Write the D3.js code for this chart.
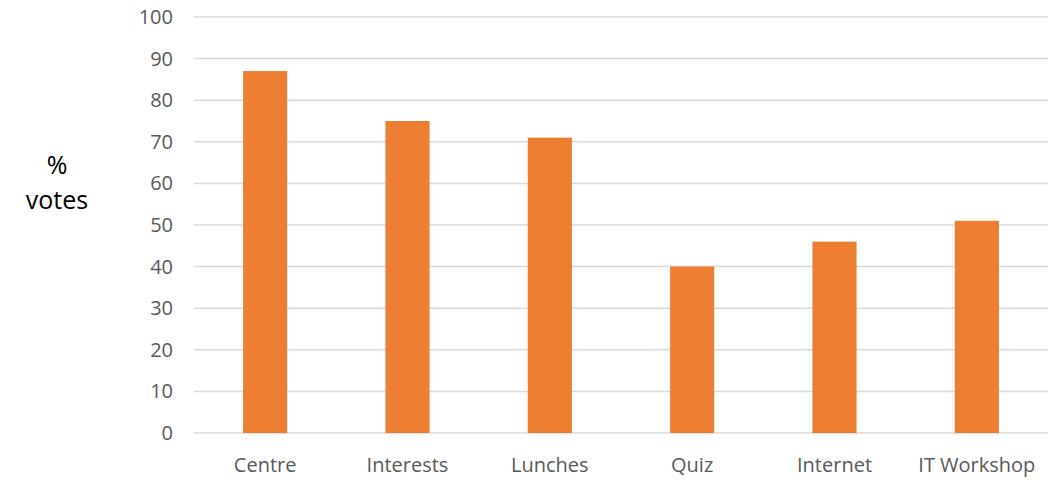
<!DOCTYPE html>
<html>
<head>
<meta charset="utf-8">
<script src="https://cdn.jsdelivr.net/npm/d3@7"></script>
<style>
  html, body { margin: 0; padding: 0; background: #fff; }
  svg { display: block; }
</style>
</head>
<body>
<svg id="chart" width="1060" height="482"></svg>
<script>
const categories = ["Centre", "Interests", "Lunches", "Quiz", "Internet", "IT Workshop"];
const votes = [87, 75, 71, 40, 46, 51];
const yTicks = [0, 10, 20, 30, 40, 50, 60, 70, 80, 90, 100];
const yLabelLines = ["%", "votes"];

const svg = d3.select("#chart");
const margin = { left: 194, right: 12, top: 17, bottom: 49 };
const W = 1060, H = 482;

const x = d3.scaleBand()
  .domain(categories)
  .range([margin.left, W - margin.right])
  .paddingInner(0.69)
  .paddingOuter(0.345);

const y = d3.scaleLinear()
  .domain([0, 100])
  .range([H - margin.bottom, margin.top]);

const font = "'Open Sans', 'Liberation Sans', sans-serif";

// grid lines
svg.append("g")
  .selectAll("line")
  .data(yTicks)
  .join("line")
  .attr("x1", margin.left)
  .attr("x2", W - margin.right)
  .attr("y1", d => y(d))
  .attr("y2", d => y(d))
  .attr("stroke", "#d9d9d9")
  .attr("stroke-width", 1.5);

// y axis labels
const yAxis = d3.axisLeft(y).tickValues(yTicks).tickSize(0).tickPadding(21);
const gy = svg.append("g")
  .attr("transform", `translate(${margin.left},0)`)
  .call(yAxis);
gy.select(".domain").remove();
gy.selectAll("text")
  .attr("fill", "#595959")
  .style("font-family", font)
  .style("font-size", "20px");

// bars
svg.append("g")
  .selectAll("rect")
  .data(categories.map((c, i) => ({ c, v: votes[i] })))
  .join("rect")
  .attr("x", d => x(d.c))
  .attr("width", x.bandwidth())
  .attr("y", d => y(d.v))
  .attr("height", d => y(0) - y(d.v))
  .attr("fill", "#ED7D31");

// x axis labels
const xAxis = d3.axisBottom(x).tickSize(0).tickPadding(25);
const gx = svg.append("g")
  .attr("transform", `translate(0,${y(0)})`)
  .call(xAxis);
gx.select(".domain").remove();
gx.selectAll("text")
  .attr("fill", "#595959")
  .style("font-family", font)
  .style("font-size", "20px");

// y axis title
svg.append("text")
  .attr("text-anchor", "middle")
  .style("font-family", font)
  .style("font-size", "25px")
  .attr("fill", "#000")
  .selectAll("tspan")
  .data(yLabelLines)
  .join("tspan")
  .attr("x", 57)
  .attr("y", (d, i) => 174 + i * 35)
  .text(d => d);
</script>
</body>
</html>
